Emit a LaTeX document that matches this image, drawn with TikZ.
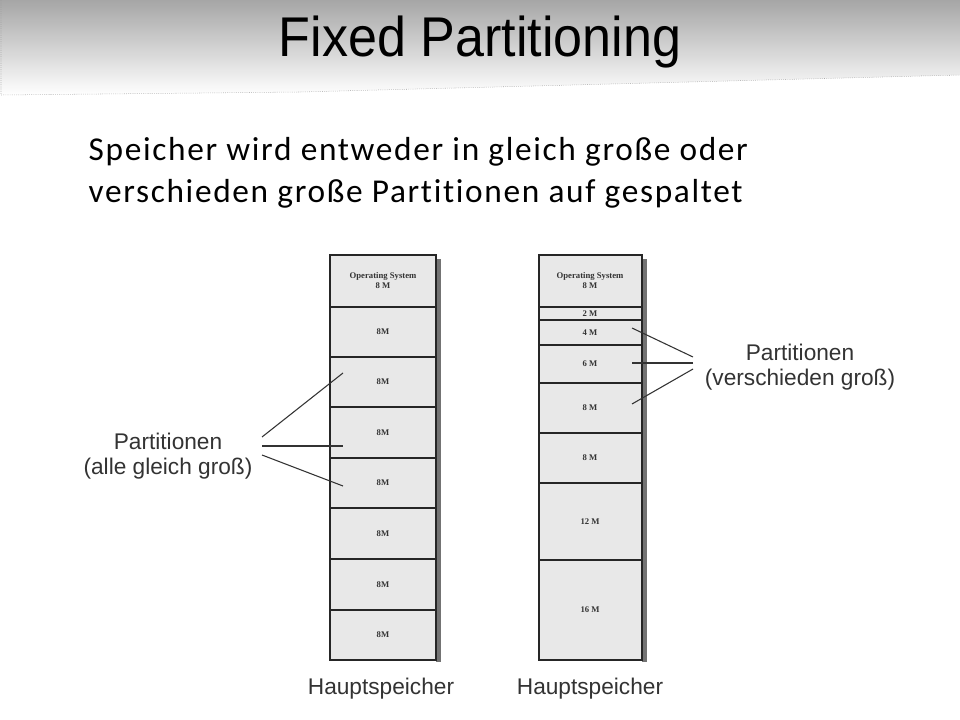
\documentclass[tikz,border=0pt]{standalone}
\usepackage{fontspec}
\setmainfont{Liberation Sans}
\newfontfamily\bodyfont[LetterSpace=5,Ligatures=NoCommon]{Carlito}
\newfontfamily\smallserif{Liberation Serif}
\begin{document}
\begin{tikzpicture}[x=0.75pt,y=-0.75pt,
  cell/.style={draw=black!85,line width=1.2pt,fill=black!9},
  celltxt/.style={font=\smallserif\bfseries\fontsize{6.5}{7.5}\selectfont,align=center,text=black!80},
  lbl/.style={font=\fontsize{17}{19}\selectfont,align=center,text=black!80},
  ptr/.style={draw=black!80,line width=0.8pt}]
\useasboundingbox (0,0) rectangle (960,720);
\fill[white] (0,0) rectangle (960,720);
\shade[top color=black!35,bottom color=white] (0,0) -- (960,0) -- (960,75) -- (300,92) -- (0,95) -- cycle;
\draw[black!40,densely dotted] (1,0) -- (1,95) -- (300,92) -- (960,75);
\node (title) at (480,42) {\scalebox{0.93}[1]{\fontsize{42}{48}\selectfont Fixed Partitioning}};
\node[anchor=north west,align=left,font=\bodyfont\fontsize{25}{31.5}\selectfont] (body) at (84,133)
  {Speicher wird entweder in gleich große oder\\verschieden große Partitionen auf gespaltet};
% shadows
\fill[black!55] (436,259) rectangle (441,662);
\fill[black!55] (642,259) rectangle (647,662);
% left column
\foreach \a/\b/\t [count=\i] in {255/307/{Operating System\\8 M},307/357/8M,357/407/8M,407/458/8M,458/508/8M,508/559/8M,559/610/8M,610/660/8M}{
  \draw[cell] (330,\a) rectangle (436,\b);
  \node[celltxt] (L\i) at (383,{(\a+\b)/2}) {\t};
}
% right column
\foreach \a/\b/\t [count=\i] in {255/307/{Operating System\\8 M},307/320/2 M,320/345/4 M,345/383/6 M,383/433/8 M,433/483/8 M,483/560/12 M,560/660/16 M}{
  \draw[cell] (539,\a) rectangle (642,\b);
  \node[celltxt] (R\i) at (590,{(\a+\b)/2}) {\t};
}
\node[lbl] (lp) at (168,456) {Partitionen\\(alle gleich groß)};
\node[lbl] (rp) at (800,367) {Partitionen\\(verschieden groß)};
\coordinate (la1) at (262,437); \coordinate (la2) at (262,446); \coordinate (la3) at (262,455);
\coordinate (lt1) at (343,373); \coordinate (lt2) at (343,446); \coordinate (lt3) at (343,486);
\draw[ptr] (la1) -- (lt1); \draw[ptr] (la2) -- (lt2); \draw[ptr] (la3) -- (lt3);
\coordinate (ra1) at (693,357); \coordinate (ra2) at (693,363); \coordinate (ra3) at (693,369);
\coordinate (rt1) at (632,328); \coordinate (rt2) at (632,363); \coordinate (rt3) at (632,404);
\draw[ptr] (ra1) -- (rt1); \draw[ptr] (ra2) -- (rt2); \draw[ptr] (ra3) -- (rt3);
\node[lbl] (h1) at (381,689) {Hauptspeicher};
\node[lbl] (h2) at (590,689) {Hauptspeicher};
\end{tikzpicture}
\end{document}
